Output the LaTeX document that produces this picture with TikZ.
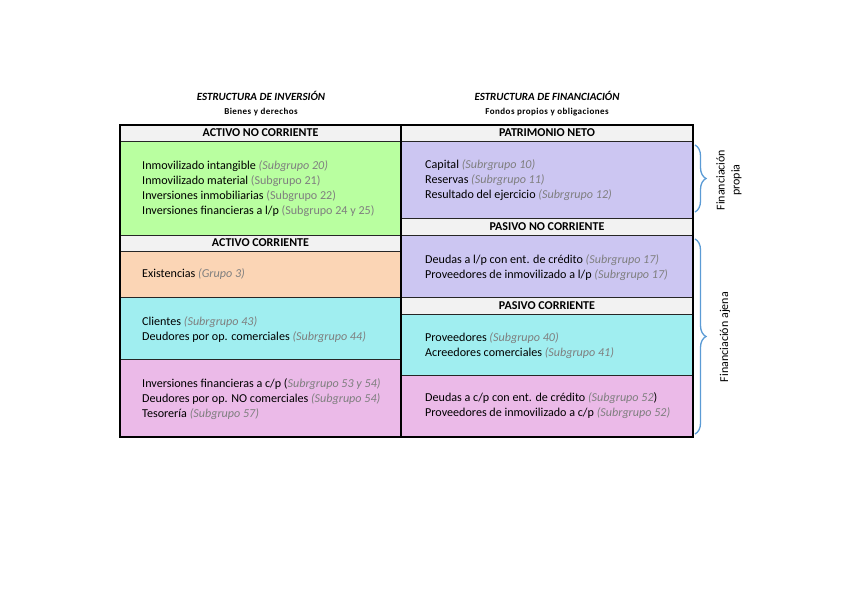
\documentclass[tikz,border=0pt]{standalone}
\usepackage{fontspec}
\setmainfont{Carlito}
\usetikzlibrary{decorations.pathreplacing}
\definecolor{hdrgray}{HTML}{F2F2F2}
\definecolor{cgreen}{HTML}{B9FFA0}
\definecolor{clav}{HTML}{CCC6F2}
\definecolor{corange}{HTML}{FBD5B5}
\definecolor{ccyan}{HTML}{A0EEF0}
\definecolor{cpink}{HTML}{EBBAE8}
\definecolor{subgray}{HTML}{7F7F7F}
\definecolor{braceblue}{HTML}{5B9BD5}
\newcommand\sgi[1]{{\color{subgray}\itshape #1}}
\newcommand\sgn[1]{{\color{subgray}#1}}
\begin{document}
\begin{tikzpicture}[x=1pt,y=-1pt,
  cell/.style={draw=black!85, line width=1pt, anchor=north west, inner sep=0pt, outer sep=0pt},
  hdr/.style={cell, fill=hdrgray, font=\fontsize{12}{14}\selectfont\bfseries},
  body/.style={anchor=west, align=left, inner sep=0pt, font=\fontsize{12.1}{15}\selectfont},
  frame/.style={draw=black, line width=2pt},
  title/.style={anchor=base, inner sep=0pt, font=\fontsize{11}{13}\selectfont\bfseries\itshape},
  subtitle/.style={anchor=base, inner sep=0pt, font=\fontsize{9}{11}\selectfont\bfseries\addfontfeature{LetterSpace=5}},
  curlyb/.style={decorate, decoration={brace, amplitude=11pt}, draw=braceblue, line width=1.3pt},
  sidelabel/.style={rotate=90, align=center, inner sep=0pt, font=\fontsize{12}{15}\selectfont}
  ]
\path[use as bounding box] (0,0) rectangle (848,599);

% titles
\node[title] (t1) at (261,100.5) {ESTRUCTURA DE INVERSIÓN};
\node[subtitle] (s1) at (261,114) {Bienes y derechos};
\node[title] (t2) at (547,100.5) {ESTRUCTURA DE FINANCIACIÓN};
\node[subtitle] (s2) at (547,114) {Fondos propios y obligaciones};

% left column
\node[hdr, minimum width=281pt, minimum height=16pt] (hANC) at (120,125) {ACTIVO NO CORRIENTE};
\node[cell, fill=cgreen, minimum width=281pt, minimum height=94pt] (bANC) at (120,141) {};
\node[hdr, minimum width=281pt, minimum height=16pt] (hAC) at (120,235) {ACTIVO CORRIENTE};
\node[cell, fill=corange, minimum width=281pt, minimum height=46pt] (bEx) at (120,251) {};
\node[cell, fill=ccyan, minimum width=281pt, minimum height=62pt] (bCl) at (120,297) {};
\node[cell, fill=cpink, minimum width=281pt, minimum height=78pt] (bTe) at (120,359) {};

% right column
\node[hdr, minimum width=292pt, minimum height=16pt] (hPN) at (401,125) {PATRIMONIO NETO};
\node[cell, fill=clav, minimum width=292pt, minimum height=77pt] (bPN) at (401,141) {};
\node[hdr, minimum width=292pt, minimum height=17pt] (hPNC) at (401,218) {PASIVO NO CORRIENTE};
\node[cell, fill=clav, minimum width=292pt, minimum height=62pt] (bPNC) at (401,235) {};
\node[hdr, minimum width=292pt, minimum height=17pt] (hPC) at (401,297) {PASIVO CORRIENTE};
\node[cell, fill=ccyan, minimum width=292pt, minimum height=61pt] (bPC1) at (401,314) {};
\node[cell, fill=cpink, minimum width=292pt, minimum height=62pt] (bPC2) at (401,375) {};

% frames
\draw[frame] (hANC.north west) rectangle (bTe.south east);
\draw[frame] (hPN.north west) rectangle (bPC2.south east);

% left texts
\node[body] (xANC) at ([xshift=22pt,yshift=-0.5pt]bANC.west) {Inmovilizado intangible \sgi{(Subgrupo 20)}\\
Inmovilizado material \sgn{(Subgrupo 21)}\\
Inversiones inmobiliarias \sgn{(Subgrupo 22)}\\
Inversiones financieras a l/p \sgn{(Subgrupo 24 y 25)}};
\node[body] (xEx) at ([xshift=22pt]bEx.west) {Existencias \sgi{(Grupo 3)}};
\node[body] (xCl) at ([xshift=22pt,yshift=-2pt]bCl.west) {Clientes \sgi{(Subrgrupo 43)}\\
Deudores por op. comerciales \sgi{(Subrgrupo 44)}};
\node[body] (xTe) at ([xshift=22pt,yshift=-1pt]bTe.west) {Inversiones financieras a c/p (\sgi{Subrgrupo 53 y 54)}\\
Deudores por op. NO comerciales \sgi{(Subgrupo 54)}\\
Tesorería \sgi{(Subgrupo 57)}};

% right texts
\node[body] (xPN) at ([xshift=24pt,yshift=-0.5pt]bPN.west) {Capital \sgi{(Subrgrupo 10)}\\
Reservas \sgi{(Subrgrupo 11)}\\
Resultado del ejercicio \sgi{(Subrgrupo 12)}};
\node[body] (xPNC) at ([xshift=24pt,yshift=-1.5pt]bPNC.west) {Deudas a l/p con ent. de crédito \sgi{(Subrgrupo 17)}\\
Proveedores de inmovilizado a l/p \sgi{(Subrgrupo 17)}};
\node[body] (xPC1) at ([xshift=24pt,yshift=-1pt]bPC1.west) {Proveedores \sgi{(Subgrupo 40)}\\
Acreedores comerciales \sgi{(Subgrupo 41)}};
\node[body] (xPC2) at ([xshift=24pt]bPC2.west) {Deudas a c/p con ent. de crédito \sgi{(Subgrupo 52}) \\
Proveedores de inmovilizado a c/p \sgi{(Subrgrupo 52)}};

% braces
\coordinate (b1t) at (695,145);
\coordinate (b1b) at (695,212);
\coordinate (b2t) at (695,239);
\coordinate (b2b) at (695,434);
\draw[curlyb] (b1t) -- (b1b);
\draw[curlyb] (b2t) -- (b2b);
\node[sidelabel] (lprop) at (729,180) {Financiación\\propia};
\node[sidelabel] (lajen) at (725,337) {Financiación ajena};
\end{tikzpicture}
\end{document}
